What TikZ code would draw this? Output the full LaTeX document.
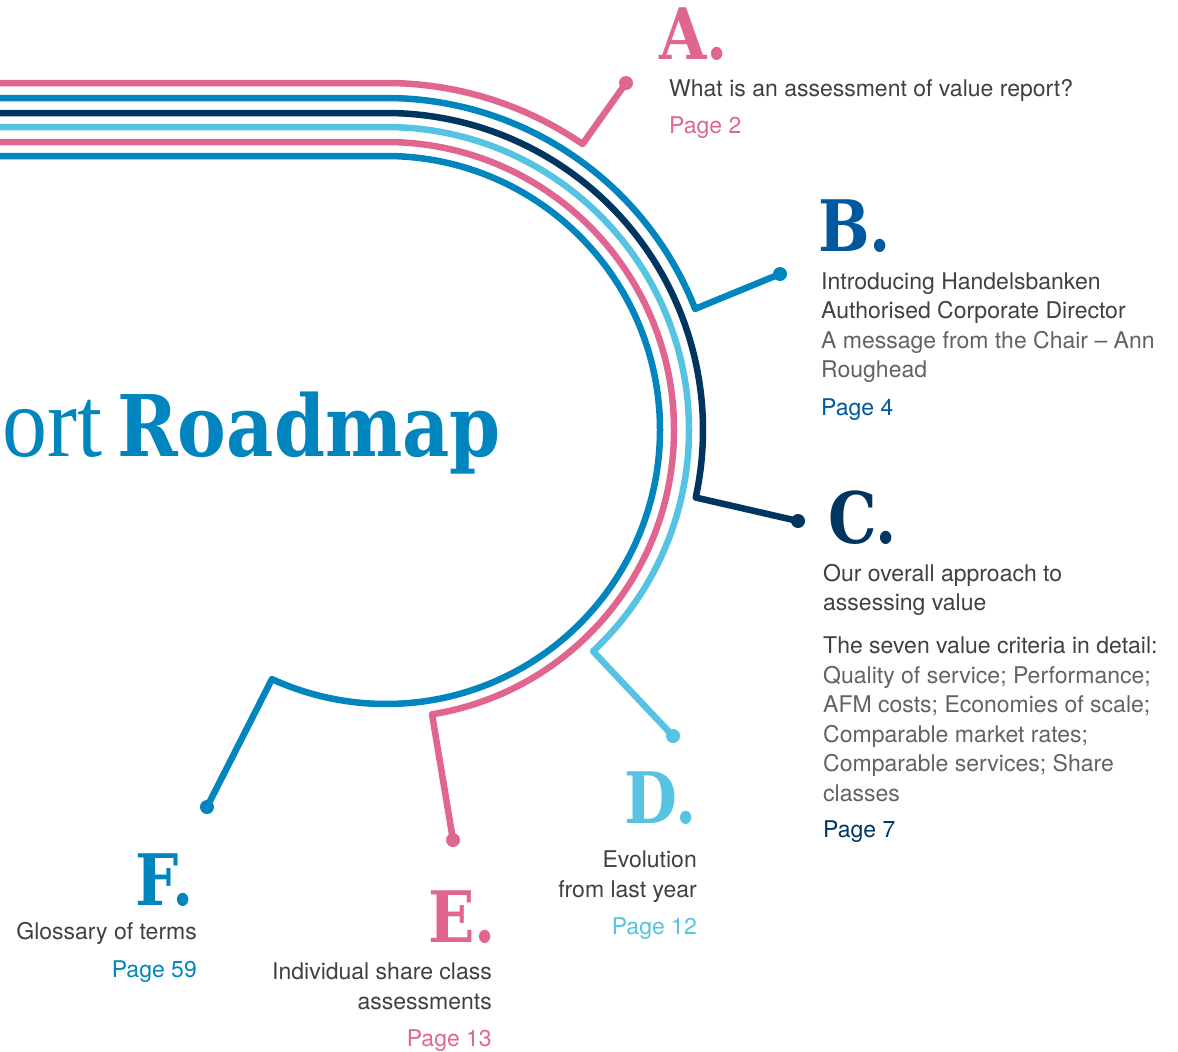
\documentclass[tikz,border=0pt]{standalone}
\usepackage{fontspec}
\setmainfont{TeX Gyre Heros}
\newfontfamily\slabfont[FakeStretch=0.86]{DejaVu Serif}
\newfontfamily\thinfont[FakeStretch=0.9]{Liberation Serif}
\usetikzlibrary{calc}
\definecolor{rmpink}{RGB}{224,102,143}
\definecolor{rmblue}{RGB}{0,133,190}
\definecolor{rmnavy}{RGB}{0,53,96}
\definecolor{rmsky}{RGB}{87,195,227}
\definecolor{rmdeep}{RGB}{0,88,158}
\definecolor{rmgrey}{RGB}{64,64,64}
\definecolor{rmlight}{RGB}{98,98,98}
\newcommand{\lite}[1]{\textcolor{rmlight}{#1}}

\begin{document}
\begin{tikzpicture}[x=1pt,y=1pt,
    track/.style={line width=6.5,line join=round},
    tip/.style={circle,inner sep=0pt,minimum size=14pt},
    letter/.style={inner sep=0pt,font=\slabfont\bfseries\fontsize{71}{71}\selectfont},
    blurb/.style={inner sep=0pt,text=rmgrey,font=\fontsize{23}{29.5}\selectfont}]
            \useasboundingbox (0,0) rectangle (1178,-1052);
            \coordinate (ctr) at (386,-430);

            \node[tip,fill=rmpink] (dotA) at (626,-83) {};
            \node[tip,fill=rmblue] (dotB) at (780,-274) {};
            \node[tip,fill=rmnavy] (dotC) at (798,-521) {};
            \node[tip,fill=rmsky] (dotD) at (673,-736) {};
            \node[tip,fill=rmpink] (dotE) at (453,-840) {};
            \node[tip,fill=rmblue] (dotF) at (207,-807) {};

            \draw[track,rmpink] (0,-83) -- ($(ctr)+(90:347)$) arc[start angle=90,end angle=55.5,radius=347] -- (dotA.center);
            \draw[track,rmblue] (0,-98) -- ($(ctr)+(90:332)$) arc[start angle=90,end angle=21.4,radius=332] -- (dotB.center);
            \draw[track,rmnavy] (0,-113) -- ($(ctr)+(90:317)$) arc[start angle=90,end angle=-12.3,radius=317] -- (dotC.center);
            \draw[track,rmsky] (0,-127) -- ($(ctr)+(90:303)$) arc[start angle=90,end angle=-46.9,radius=303] -- (dotD.center);
            \draw[track,rmpink] (0,-142) -- ($(ctr)+(90:288)$) arc[start angle=90,end angle=-80.8,radius=288] -- (dotE.center);
            \draw[track,rmblue] (0,-156) -- ($(ctr)+(90:274)$) arc[start angle=90,end angle=-114.6,radius=274] -- (dotF.center);

            \node[anchor=base east,inner sep=0pt,text=rmblue,font=\thinfont\fontsize{100}{100}\selectfont] (ort) at (103,-456) {ort};
            \node[anchor=base west,inner sep=0pt,text=rmblue,font=\slabfont\bfseries\fontsize{85}{85}\selectfont] (title) at (117,-456) {Roadmap};

            \node[letter,text=rmpink,anchor=base west] (letA) at (659,-59) {A.};
            \node[blurb,align=left,anchor=base west] (txtA) at (669,-133) {What is an assessment of value report?\\[7pt]\textcolor{rmpink}{Page 2}};

            \node[letter,text=rmdeep,anchor=base west] (letB) at (818,-251) {B.};
            \node[blurb,align=left,anchor=base west] (txtB) at (821,-415) {Introducing Handelsbanken\\Authorised Corporate Director\\\lite{A message from the Chair -- Ann}\\\lite{Roughead}\\[8pt]\textcolor{rmdeep}{Page 4}};

            \node[letter,text=rmnavy,anchor=base west] (letC) at (828,-543) {C.};
            \node[blurb,align=left,anchor=base west] (txtC) at (823,-837) {Our overall approach to\\assessing value\\[13.5pt]The seven value criteria in detail:\\\lite{Quality of service; Performance;}\\\lite{AFM costs; Economies of scale;}\\\lite{Comparable market rates;}\\\lite{Comparable services; Share}\\\lite{classes}\\[6.5pt]\textcolor{rmnavy}{Page 7}};

            \node[letter,text=rmsky,anchor=base east] (letD) at (697,-823) {D.};
            \node[blurb,align=right,anchor=base east] (txtD) at (697,-934) {Evolution\\from last year\\[7.5pt]\textcolor{rmsky}{Page 12}};

            \node[letter,text=rmpink,anchor=base east] (letE) at (496,-942) {E.};
            \node[blurb,align=right,anchor=base east] (txtE) at (492,-1046) {Individual share class\\assessments\\[7.5pt]\textcolor{rmpink}{Page 13}};

            \node[letter,text=rmblue,anchor=base east] (letF) at (194,-905) {F.};
            \node[blurb,align=right,anchor=base east] (txtF) at (197,-977) {Glossary of terms\\[8pt]\textcolor{rmblue}{Page 59}};
\end{tikzpicture}
\end{document}
